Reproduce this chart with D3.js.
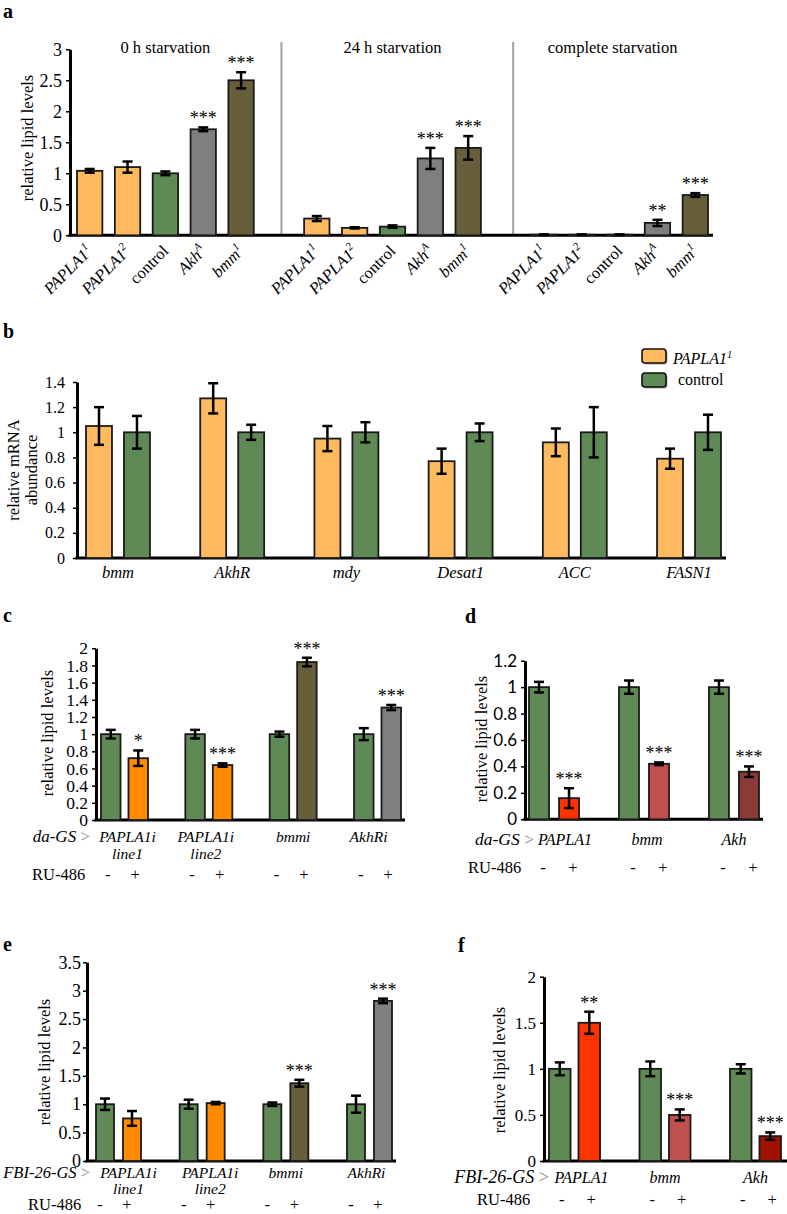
<!DOCTYPE html>
<html><head><meta charset="utf-8">
<script src="https://cdn.jsdelivr.net/npm/d3@7"></script>
<style>
body{margin:0;background:#fff}
svg{display:block}
text{font-family:"Liberation Serif","Times New Roman",serif;fill:#000}
</style>
</head><body>
<script>
// ---------------- DATA ----------------
// Panel a
const aGroups = ["0 h starvation", "24 h starvation", "complete starvation"];
const aGenotypes = ["PAPLA1", "PAPLA1", "control", "Akh", "bmm"];
const aSup = ["1", "2", "", "A", "1"];
const aVal0h = [1.04, 1.10, 1.00, 1.71, 2.50];
const aErr0h = [0.03, 0.09, 0.03, 0.03, 0.13];
const aSig0h = ["", "", "", "***", "***"];
const aVal24h = [0.27, 0.12, 0.14, 1.24, 1.41];
const aErr24h = [0.04, 0.01, 0.02, 0.17, 0.19];
const aSig24h = ["", "", "", "***", "***"];
const aValComplete = [0.01, 0.01, 0.01, 0.20, 0.65];
const aErrComplete = [0.005, 0.005, 0.005, 0.05, 0.03];
const aSigComplete = ["", "", "", "**", "***"];
const aTicks = [0, 0.5, 1, 1.5, 2, 2.5, 3];

// Panel b
const bGenes = ["bmm", "AkhR", "mdy", "Desat1", "ACC", "FASN1"];
const bSeries = ["PAPLA1", "control"];
const bPapla = [1.05, 1.27, 0.95, 0.77, 0.92, 0.79];
const bPaplaErr = [0.15, 0.12, 0.10, 0.10, 0.11, 0.08];
const bControl = [1, 1, 1, 1, 1, 1];
const bControlErr = [0.13, 0.06, 0.08, 0.07, 0.20, 0.14];
const bTicks = [0, 0.2, 0.4, 0.6, 0.8, 1, 1.2, 1.4];

// Panel c
const cLine1 = ["PAPLA1i", "PAPLA1i", "bmmi", "AkhRi"];
const cLine2 = ["line1", "line2", "", ""];
const cMinus = [1, 1, 1, 1];
const cMinusErr = [0.05, 0.05, 0.03, 0.07];
const cPlus = [0.72, 0.64, 1.84, 1.31];
const cPlusErr = [0.09, 0.02, 0.05, 0.03];
const cSig = ["*", "***", "***", "***"];
const cTicks = [0, 0.2, 0.4, 0.6, 0.8, 1, 1.2, 1.4, 1.6, 1.8, 2];

// Panel d
const dGenes = ["PAPLA1", "bmm", "Akh"];
const dMinus = [1, 1, 1];
const dMinusErr = [0.04, 0.05, 0.05];
const dPlus = [0.16, 0.42, 0.36];
const dPlusErr = [0.075, 0.01, 0.04];
const dSig = ["***", "***", "***"];
const dTicks = [0, 0.2, 0.4, 0.6, 0.8, 1, 1.2];

// Panel e
const eLine1 = ["PAPLA1i", "PAPLA1i", "bmmi", "AkhRi"];
const eLine2 = ["line1", "line2", "", ""];
const eMinus = [1, 1, 1, 1];
const eMinusErr = [0.10, 0.08, 0.03, 0.15];
const ePlus = [0.75, 1.02, 1.37, 2.82];
const ePlusErr = [0.13, 0.02, 0.06, 0.04];
const eSig = ["", "", "***", "***"];
const eTicks = [0, 0.5, 1, 1.5, 2, 2.5, 3, 3.5];

// Panel f
const fGenes = ["PAPLA1", "bmm", "Akh"];
const fMinus = [1, 1, 1];
const fMinusErr = [0.07, 0.08, 0.05];
const fPlus = [1.50, 0.50, 0.27];
const fPlusErr = [0.12, 0.06, 0.04];
const fSig = ["**", "***", "***"];
const fTicks = [0, 0.5, 1, 1.5, 2];

const ruLabels = ["-", "+"];

// ---------------- STYLE ----------------
const C = {
  orangeL: "#FFB95E", green: "#5F8A55", olive: "#675E3A", gray: "#7F7F7F",
  orange: "#FF8A00", red: "#FF3300", pink: "#C0504D", darkRedD: "#8A3B35", darkRedF: "#A01200"
};
const SERIF = '"Liberation Serif","Times New Roman",serif';
const SANS = 'Lato,"Liberation Sans",sans-serif';

const svg = d3.select("body").append("svg").attr("width", 787).attr("height", 1214)
  .attr("font-family", SERIF);

function panelLetter(t, x, y) {
  svg.append("text").attr("x", x).attr("y", y).attr("font-size", 20).attr("font-weight", "bold").text(t);
}
function yAxis(y, axisX, baseEnd, ticks, fs, pad, family) {
  const g = svg.append("g").attr("transform", `translate(${axisX},0)`)
    .call(d3.axisLeft(y).tickValues(ticks).tickSize(4).tickSizeOuter(0).tickPadding(pad).tickFormat(d => String(d)));
  g.attr("font-family", family || SERIF);
  g.select(".domain").attr("stroke", "#000").attr("stroke-width", 3);
  g.selectAll(".tick line").attr("stroke", "#000").attr("stroke-width", 1.5);
  g.selectAll(".tick text").attr("font-size", fs).style("font-family", family || SERIF).attr("fill", "#000");
  svg.append("line").attr("x1", axisX - 1.5).attr("x2", baseEnd).attr("y1", y(0)).attr("y2", y(0))
    .attr("stroke", "#000").attr("stroke-width", 3);
}
function yLabel(lines, x, y, fs, lh) {
  const t = svg.append("text").attr("transform", `translate(${x},${y}) rotate(-90)`)
    .attr("text-anchor", "middle").attr("font-size", fs);
  lines.forEach((l, i) => t.append("tspan").attr("x", 0).attr("dy", i === 0 ? 0 : (lh || fs * 1.1)).text(l));
}
function bar(g, x, w, y, v, e, color, sig, capW) {
  const cx = x + w / 2;
  g.append("rect").attr("x", x).attr("y", y(v)).attr("width", w).attr("height", y(0) - y(v))
    .attr("fill", color).attr("stroke", "#1a1a1a").attr("stroke-width", 1.8);
  const cw = capW || 5;
  g.append("line").attr("x1", cx).attr("x2", cx).attr("y1", y(v + e)).attr("y2", y(v - e))
    .attr("stroke", "#000").attr("stroke-width", 2.5);
  [v + e, v - e].forEach(val => g.append("line").attr("x1", cx - cw).attr("x2", cx + cw)
    .attr("y1", y(val)).attr("y2", y(val)).attr("stroke", "#000").attr("stroke-width", 2.5));
  if (sig) g.append("text").attr("x", cx).attr("y", y(v + e) - 3).attr("text-anchor", "middle")
    .attr("font-size", 18).attr("fill", "#555").text(sig);
}

// ---------------- PANEL a ----------------
panelLetter("a", 3, 18);
{
  const y = d3.scaleLinear().domain([0, 3]).range([235.3, 49.3]);
  const x = d3.scaleBand().domain(d3.range(17)).range([77, 708]).paddingInner(0.33).paddingOuter(0);
  const vals = [aVal0h, aVal24h, aValComplete];
  const errs = [aErr0h, aErr24h, aErrComplete];
  const sigs = [aSig0h, aSig24h, aSigComplete];
  const colors = [C.orangeL, C.orangeL, C.green, C.gray, C.olive];
  [x(5) + x.bandwidth() * 0.6, x(11) + x.bandwidth() * 0.78].forEach(sx =>
    svg.append("line").attr("x1", sx).attr("x2", sx).attr("y1", 42).attr("y2", y(0))
      .attr("stroke", "#A0A0A0").attr("stroke-width", 2));
  yAxis(y, 70, 713, aTicks, 18, 4);
  yLabel(["relative lipid levels"], 33, 138, 16.5);
  const g = svg.append("g");
  aGroups.forEach((grp, gi) => {
    svg.append("text").attr("x", x(gi * 6 + 2) + x.bandwidth() / 2 - (gi === 2 ? 7 : 0)).attr("y", 53)
      .attr("text-anchor", "middle").attr("font-size", 16.5).text(grp);
    aGenotypes.forEach((gt, i) => {
      const slot = gi * 6 + i;
      bar(g, x(slot), x.bandwidth(), y, vals[gi][i], errs[gi][i], colors[i], sigs[gi][i], 5);
      const cx = x(slot) + x.bandwidth() / 2;
      const t = svg.append("text").attr("transform", `translate(${cx + 4},252) rotate(-45)`)
        .attr("text-anchor", "end").attr("font-size", 16.5);
      t.append("tspan").attr("font-style", gt === "control" ? "normal" : "italic").text(gt);
      if (aSup[i]) t.append("tspan").attr("font-style", "italic").attr("font-size", 11).attr("dy", -7).text(aSup[i]);
    });
  });
}

// ---------------- PANEL b ----------------
panelLetter("b", 3, 338);
{
  const y = d3.scaleLinear().domain([0, 1.4]).range([558, 382]);
  const x0 = d3.scaleBand().domain(bGenes).range([86, 721]).paddingInner(0.44).paddingOuter(0);
  const x1 = d3.scaleBand().domain(bSeries).range([0, x0.bandwidth()]).paddingInner(0.316).paddingOuter(0);
  yAxis(y, 77, 726, bTicks, 16, 8);
  yLabel(["relative mRNA", "abundance"], 19, 470, 16.5, 18);
  const g = svg.append("g");
  bGenes.forEach((gn, i) => {
    bar(g, x0(gn) + x1("PAPLA1"), x1.bandwidth(), y, bPapla[i], bPaplaErr[i], C.orangeL, "", 5);
    bar(g, x0(gn) + x1("control"), x1.bandwidth(), y, bControl[i], bControlErr[i], C.green, "", 5);
    svg.append("text").attr("x", x0(gn) + x0.bandwidth() / 2).attr("y", 578).attr("text-anchor", "middle")
      .attr("font-size", 16.5).attr("font-style", "italic").text(gn);
  });
  const lg = svg.append("g");
  [[C.orangeL, 349], [C.green, 373]].forEach(([c, ly]) => {
    lg.append("rect").attr("x", 643.5).attr("y", ly + 1.5).attr("width", 24).attr("height", 14).attr("rx", 3)
      .attr("fill", "#aaa");
    lg.append("rect").attr("x", 642).attr("y", ly).attr("width", 24).attr("height", 14).attr("rx", 3)
      .attr("fill", c).attr("stroke", "#111").attr("stroke-width", 1.6);
  });
  const lt = lg.append("text").attr("x", 673).attr("y", 364).attr("font-size", 16).attr("font-style", "italic");
  lt.append("tspan").text(bSeries[0]);
  lt.append("tspan").attr("font-size", 10.5).attr("dy", -6).text("1");
  lg.append("text").attr("x", 678).attr("y", 385).attr("font-size", 16).text(bSeries[1]);
}

// ---------------- pair panels c-f ----------------
function pairPanel(o) {
  const y = d3.scaleLinear().domain(o.domain).range(o.yRange);
  const keys = d3.range(o.minus.length);
  const x0 = d3.scaleBand().domain(keys).range(o.xRange).paddingInner(o.pI).paddingOuter(0);
  const x1 = d3.scaleBand().domain(ruLabels).range([0, x0.bandwidth()]).paddingInner(o.pI2).paddingOuter(0);
  yAxis(y, o.axisX, o.baseEnd, o.ticks, o.tickFs, o.tickPad, o.tickFamily);
  yLabel(["relative lipid levels"], o.ylx, o.yly, 16.5);
  const g = svg.append("g");
  keys.forEach(k => {
    bar(g, x0(k) + x1("-"), x1.bandwidth(), y, o.minus[k], o.minusErr[k], C.green, "", 5);
    bar(g, x0(k) + x1("+"), x1.bandwidth(), y, o.plus[k], o.plusErr[k], o.plusColors[k], o.sig[k], 5);
    const gc = x0(k) + x0.bandwidth() / 2 + (o.labelShift ? o.labelShift[k] : 0);
    svg.append("text").attr("x", gc).attr("y", o.labY).attr("text-anchor", "middle")
      .attr("font-size", o.labFs || 16).attr("font-style", "italic").text(o.line1[k]);
    if (o.line2 && o.line2[k]) svg.append("text").attr("x", gc).attr("y", o.labY + o.lineGap).attr("text-anchor", "middle")
      .attr("font-size", o.labFs || 16).attr("font-style", "italic").text(o.line2[k]);
    ruLabels.forEach(s => svg.append("text").attr("x", x0(k) + x1(s) + x1.bandwidth() / 2 + o.ruShift).attr("y", o.ruY)
      .attr("text-anchor", "middle").attr("font-size", 16.5).text(s));
  });
  const dl = svg.append("text").attr("x", o.driverX).attr("y", o.labY).attr("text-anchor", "end").attr("font-size", o.driverFs);
  dl.append("tspan").attr("font-style", "italic").text(o.driver);
  dl.append("tspan").attr("fill", "#888").text(" >");
  svg.append("text").attr("x", o.ruX).attr("y", o.ruY).attr("font-size", 16.5).text("RU-486");
}

panelLetter("c", 3, 622);
pairPanel({
  domain: [0, 2], yRange: [820, 648.3], xRange: [101, 401], pI: 0.443, pI2: 0.29,
  axisX: 96, baseEnd: 405, ticks: cTicks, tickFs: 17.5, tickPad: 4,
  ylx: 53, yly: 733, minus: cMinus, minusErr: cMinusErr, plus: cPlus, plusErr: cPlusErr, sig: cSig,
  plusColors: [C.orange, C.orange, C.olive, C.gray], line1: cLine1, line2: cLine2, labelShift: [3, -3, 0, -9],
  labY: 842, lineGap: 17, labFs: 15.5, ruY: 880, ruShift: -3, driver: "da-GS", driverX: 90, driverFs: 17, ruX: 32
});

panelLetter("d", 465, 623);
pairPanel({
  domain: [0, 1.2], yRange: [819.3, 660.7], xRange: [529, 759], pI: 0.444, pI2: 0.333,
  axisX: 525, baseEnd: 763, ticks: dTicks, tickFs: 17, tickPad: 4, tickFamily: SANS,
  ylx: 487, yly: 739, minus: dMinus, minusErr: dMinusErr, plus: dPlus, plusErr: dPlusErr, sig: dSig,
  plusColors: [C.red, C.pink, C.darkRedD], line1: dGenes, line2: null, labelShift: [11, 3, 0],
  labY: 845, lineGap: 14, ruY: 873, ruShift: 4, driver: "da-GS", driverX: 534, driverFs: 17.5, ruX: 468
});

panelLetter("e", 3, 951);
pairPanel({
  domain: [0, 3.5], yRange: [1161, 962.3], xRange: [96, 392], pI: 0.462, pI2: 0.333,
  axisX: 87, baseEnd: 396, ticks: eTicks, tickFs: 18, tickPad: 2,
  ylx: 50, yly: 1062, minus: eMinus, minusErr: eMinusErr, plus: ePlus, plusErr: ePlusErr, sig: eSig,
  plusColors: [C.orange, C.orange, C.olive, C.gray], line1: eLine1, line2: eLine2, labelShift: [10, 8, 0, -3],
  labY: 1178, lineGap: 16, labFs: 15.5, ruY: 1210, ruShift: -5, driver: "FBI-26-GS", driverX: 90, driverFs: 16.5, ruX: 28
});

panelLetter("f", 458, 952);
pairPanel({
  domain: [0, 2], yRange: [1161, 976.7], xRange: [549, 781], pI: 0.436, pI2: 0.27,
  axisX: 544, baseEnd: 787, ticks: fTicks, tickFs: 17, tickPad: 4,
  ylx: 505, yly: 1070, minus: fMinus, minusErr: fMinusErr, plus: fPlus, plusErr: fPlusErr, sig: fSig,
  plusColors: [C.red, C.pink, C.darkRedF], line1: fGenes, line2: null, labelShift: [7, 0, 0],
  labY: 1183, lineGap: 14, ruY: 1205, ruShift: 2, driver: "FBI-26-GS", driverX: 549, driverFs: 18, ruX: 477
});
</script>
</body></html>
